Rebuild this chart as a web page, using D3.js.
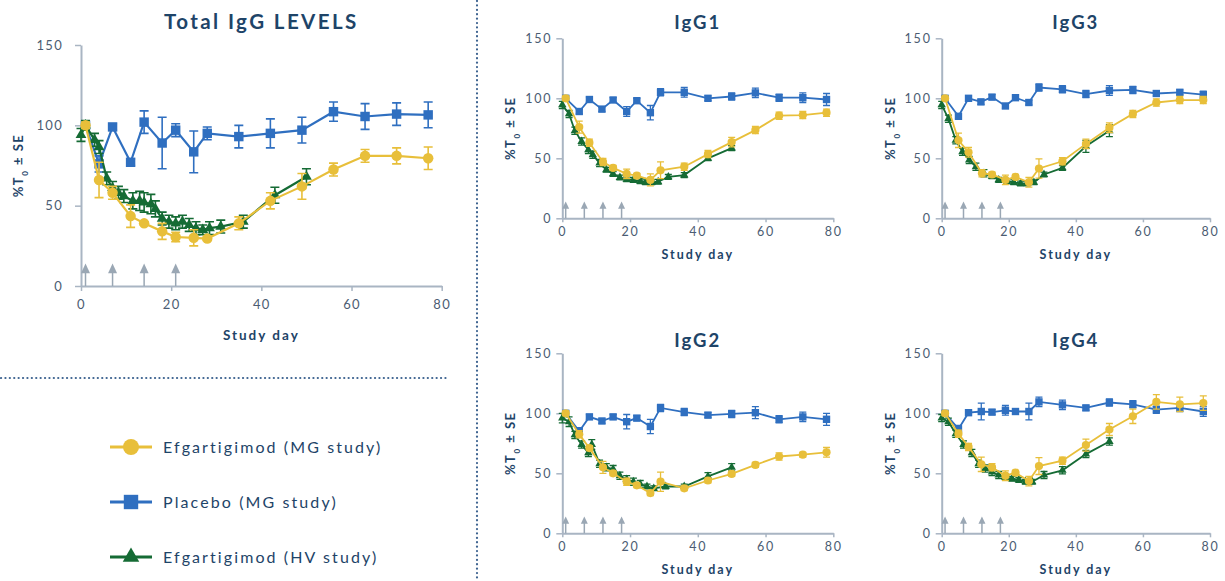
<!DOCTYPE html>
<html>
<head>
<meta charset="utf-8">
<script src="https://cdn.jsdelivr.net/npm/d3@7"></script>
<style>
	body { margin: 0; background: #ffffff; }
	svg text { font-family: Lato, "Open Sans", sans-serif; }
</style>
</head>
<body>
<div id="chart"></div>
<script>
// every series point is [study day, %T0, SE]
var totalMG = [[1,100,2],[4,66,11],[7,58,4],[11,43.5,7],[14,39,1],[18,34,5],[21,30.5,3],[25,30,5],[28,29.5,1],[35,39,4],[42,53,5],[49,62,8],[56,72.5,4],[63,81,4],[70,81,5],[77,79.5,7]];
var totalPlacebo = [[1,100,2],[4,76,5],[7,99,2],[11,77,2],[14,102,7],[18,89,16],[21,97,4],[25,83.5,13],[28,95,4],[35,93,7],[42,95,9],[49,97,8],[56,108.5,6],[63,105.5,8],[70,107,7],[77,106.5,8]];
var totalHV = [[0,94,4],[1,100,3],[3,91,4],[4,86.5,4],[5.7,67,4],[7,61,4],[8.3,58,4],[9.5,56,4],[11.5,53,5],[13,53,6],[14,52,6],[15.5,51,6],[16.5,48,5],[18,42,4],[19.5,40,4],[21,39,4],[22.5,40,4],[24,38,4],[25.5,36,4],[27,35,3],[28.5,36,4],[31,37,4],[36,40,4],[43,56.5,5],[50,68,5]];

var igg1MG = [[1,100,2],[5,76,5],[8,63,3],[12,47,3],[15,42,2],[19,37,4],[22,35.5,2],[26,32,5],[29,40,7],[36,43,3],[43,53.5,3],[50,63.5,4],[57,73.5,3],[64,85.5,3],[71,86,3],[78,88,3]];
var igg1Placebo = [[1,100,2],[5,89,2],[8,99,2],[11.7,91,2],[15,98.6,2],[19,89,4],[22,98,2],[26,88,6],[29,105,3],[36,105,4],[43,100,2],[50,101.5,3],[57,104.5,4],[64,100.5,3],[71,100.5,4],[78,99,5]];
var igg1HV = [[0,94.5,3],[2,87,3],[3.7,73,3],[5.7,64,3],[7.7,57,3],[9,53,3],[11,46,3],[13,40.5,2],[15,37,2],[17,34,2],[19,32.5,2],[21,32,2],[23,31,2],[24.6,30,2],[26.4,30,2],[28.3,30.5,2],[31.3,34.5,2],[36,36,2],[43,50,2],[50,58.5,2]];

var igg3MG = [[1,100,2],[5,65,6],[8,55,4],[12,37.5,3],[15,36.5,2],[19,32,4],[22,34.5,2],[26,30,4],[29,41.5,8],[36,47.5,3],[43,62,4],[50,75.5,4],[57,87,3],[64,96.5,3],[71,98.5,3],[78,98.5,3]];
var igg3Placebo = [[1,100,2],[5,85,2],[8,100,2],[11.7,97,2],[15,101,2],[19,93.6,2],[22,100.5,2],[26,96.5,2],[29,109,3],[36,107.5,3],[43,103.5,3],[50,106.5,4],[57,107,3],[64,104,2],[71,105,2],[78,103,3]];
var igg3HV = [[0,94.5,3],[2,83,3],[4.2,65,3],[6.2,55.5,3],[8.2,48.5,3],[10.2,43,3],[12.6,37.5,3],[15,35,2],[17,32,2],[19.5,31,2],[21.5,30,2],[23.5,29,2],[25.5,29,2],[27.5,30,2],[30.5,36.5,2],[36,42,2],[43,60,5],[50,73,5]];

var igg2MG = [[1,100,2],[5,82.5,3],[8,71,2],[12,55,5],[15,50,2],[19,43,3],[22,40,2],[26,33.5,2],[29,43,8],[36,37.5,2],[43,44,2],[50,49.5,2],[57,57,2],[64,64,3],[71,65.5,2],[78,67.5,4]];
var igg2Placebo = [[1,100,2],[5,85,3],[8,97,2],[11.7,93.6,2],[15,97,2],[19,93,6],[22,96,2],[26,89,6],[29,104.5,3],[36,101,3],[43,98.5,2],[50,99.5,3],[57,100.5,5],[64,95,3],[71,97,4],[78,95,5]];
var igg2HV = [[0,96,4],[2,93,4],[3.7,82,3],[5.7,74,3],[7.7,67,3],[8.7,74,4],[11,58,3],[13,55,3],[15,53.5,3],[17,48,3],[19,45,3],[21,43,3],[23,41,3],[25,39,2],[27,37.5,2],[30.5,39,2],[36,39,2],[43,47.5,3],[50,55,3]];

var igg4MG = [[1,100,2],[5,83,3],[8,72,3],[11.8,57.5,6],[15,55,3],[19,48,4],[22,50.5,2],[26,43.5,4],[29,56,7],[36,60.5,3],[43,73.5,5],[50,86.5,5],[57,97.5,6],[64,109.5,6],[71,107.5,6],[78,108.5,6]];
var igg4Placebo = [[1,100,2],[5,87,3],[8,100.5,2],[11.8,101.5,7],[15,101,2],[19,102.5,4],[22,101.5,2],[26,101.5,7],[29,109.5,4],[36,107,4],[43,104.5,2],[50,109,3],[57,107.5,3],[64,103,3],[71,104.5,3],[78,101.5,4]];
var igg4HV = [[0,96,3],[2,93,3],[4.2,83,3],[6.5,74,3],[9,67,3],[11,58,3],[13,54,3],[15,51,3],[17,48.5,3],[19,46.5,2],[21,45.5,2],[23,44.5,2],[25,43,2],[27,43,2],[30.5,48.5,3],[36,52.5,3],[43,66,3],[50,76.5,3]];

var dosingDaysMain = [1, 7, 14, 21];
var dosingDaysSub = [1, 6.5, 12, 17.5];
var xTicks = [0, 20, 40, 60, 80];
var yTicks = [0, 50, 100, 150];
var legendLabels = ['Efgartigimod (MG study)', 'Placebo (MG study)', 'Efgartigimod (HV study)'];

var colors = { mg: '#e8bf3a', placebo: '#2f6fc0', hv: '#156b34' };
var axisColor = '#a9b5c3';
var labelColor = '#4b5c72';
var titleColor = '#1e4468';

var svg = d3.select('#chart').append('svg')
	.attr('width', 1225)
	.attr('height', 581);

var Panel = function(opts) {
	this.o = opts;
	this.g = svg.append('g').attr('transform', 'translate(' + opts.left + ',' + opts.top + ')');
	this.x = d3.scaleLinear().domain([0, 80]).range([0, opts.width]);
	this.y = d3.scaleLinear().domain([0, 150]).range([opts.height, 0]);
	this.drawAxes();
	this.drawArrows();
	this.drawSeries(opts.placebo, colors.placebo, 'square');
	this.drawSeries(opts.hv, colors.hv, 'triangle');
	this.drawSeries(opts.mg, colors.mg, 'circle');
}

Panel.prototype.drawAxes = function() {
	var o = this.o, big = o.big;

	var yAxis = this.g.append('g')
		.call(d3.axisLeft(this.y).tickValues(yTicks).tickSize(6).tickSizeOuter(0).tickPadding(big ? 12 : 4));
	var xAxis = this.g.append('g')
		.attr('transform', 'translate(0,' + o.height + ')')
		.call(d3.axisBottom(this.x).tickValues(xTicks).tickSize(big ? 5 : 4).tickSizeOuter(0).tickPadding(big ? 9 : 4.5));

	[yAxis, xAxis].forEach(function(a) {
		a.select('.domain').attr('stroke', axisColor).attr('stroke-width', 2);
		a.selectAll('.tick line').attr('stroke', axisColor).attr('stroke-width', 1.5);
		a.selectAll('.tick text')
			.attr('fill', labelColor)
			.style('font-size', big ? '13px' : '12.5px')
			.style('letter-spacing', big ? '1.3px' : '1.8px');
	});

	// title
	this.g.append('text')
		.attr('x', o.width / 2)
		.attr('y', o.titleY)
		.attr('text-anchor', 'middle')
		.attr('fill', titleColor)
		.style('font-weight', 'bold')
		.style('font-size', big ? '20.5px' : '18.5px')
		.style('letter-spacing', big ? '2.4px' : '2px')
		.text(o.title);

	// x label
	this.g.append('text')
		.attr('x', o.width / 2)
		.attr('y', o.height + (big ? 54 : 40.5))
		.attr('text-anchor', 'middle')
		.attr('fill', titleColor)
		.style('font-weight', 'bold')
		.style('font-size', big ? '13.5px' : '12.5px')
		.style('letter-spacing', '2px')
		.text('Study day');

	// y label
	var yl = this.g.append('text')
		.attr('transform', 'translate(' + (big ? -58 : -47) + ',' + (o.height / 2) + ') rotate(-90)')
		.attr('text-anchor', 'middle')
		.attr('fill', titleColor)
		.style('font-weight', 'bold')
		.style('font-size', '13px')
		.style('letter-spacing', '1.5px');
	yl.append('tspan').text('%T');
	yl.append('tspan').attr('baseline-shift', 'sub').style('font-size', '8px').text('0');
	yl.append('tspan').text(' \u00b1 SE');
}

Panel.prototype.drawArrows = function() {
	var self = this, hw = this.o.big ? 4.5 : 3.5;
	var arrows = this.g.append('g').attr('class', 'arrows');
	this.o.arrows.forEach(function(d) {
		var ax = self.x(d);
		arrows.append('line')
			.attr('x1', ax).attr('x2', ax)
			.attr('y1', self.y(0)).attr('y2', self.y(9))
			.attr('stroke', '#9aa7b4')
			.attr('stroke-width', 1.5);
		arrows.append('path')
			.attr('d', 'M' + ax + ',' + self.y(14) + 'L' + (ax + hw) + ',' + self.y(8) + 'L' + (ax - hw) + ',' + self.y(8) + 'Z')
			.attr('fill', '#9aa7b4');
	});
}

Panel.prototype.drawSeries = function(data, color, shape) {
	var x = this.x, y = this.y, big = this.o.big;
	var cap = big ? 4.5 : 3.5;
	var g = this.g.append('g');

	g.append('path')
		.datum(data)
		.attr('d', d3.line().x(function(d) { return x(d[0]); }).y(function(d) { return y(d[1]); }))
		.attr('fill', 'none')
		.attr('stroke', color)
		.attr('stroke-width', big ? 2.2 : 1.8);

	g.selectAll('.err').data(data).enter().append('path')
		.attr('class', 'err')
		.attr('d', function(d) {
			var cx = x(d[0]), t = y(d[1] + d[2]), b = y(d[1] - d[2]);
			return 'M' + cx + ',' + t + 'V' + b +
				'M' + (cx - cap) + ',' + t + 'H' + (cx + cap) +
				'M' + (cx - cap) + ',' + b + 'H' + (cx + cap);
		})
		.attr('fill', 'none')
		.attr('stroke', color)
		.attr('stroke-width', big ? 1.6 : 1.3);

	g.selectAll('.mark').data(data).enter().append('path')
		.attr('class', 'mark')
		.attr('transform', function(d) { return 'translate(' + x(d[0]) + ',' + y(d[1]) + ')'; })
		.attr('d', markerPath(shape, big ? 1.05 : 0.82))
		.attr('fill', color);
}

function markerPath(shape, k) {
	if (shape == 'circle') return d3.symbol().type(d3.symbolCircle).size(Math.PI * 25 * k * k)();
	if (shape == 'square') return d3.symbol().type(d3.symbolSquare).size(81 * k * k)();
	return d3.symbol().type(d3.symbolTriangle).size(46 * k * k)();
}

new Panel({ title: 'Total IgG LEVELS', big: true, left: 81, top: 45, width: 360.7, height: 241, titleY: -16,
	arrows: dosingDaysMain, mg: totalMG, placebo: totalPlacebo, hv: totalHV });
new Panel({ title: 'IgG1', left: 562.3, top: 38.3, width: 271, height: 180, titleY: -9.5,
	arrows: dosingDaysSub, mg: igg1MG, placebo: igg1Placebo, hv: igg1HV });
new Panel({ title: 'IgG3', left: 941.7, top: 38.3, width: 268.3, height: 180, titleY: -9.5,
	arrows: dosingDaysSub, mg: igg3MG, placebo: igg3Placebo, hv: igg3HV });
new Panel({ title: 'IgG2', left: 562.3, top: 353.3, width: 271, height: 180, titleY: -6.5,
	arrows: dosingDaysSub, mg: igg2MG, placebo: igg2Placebo, hv: igg2HV });
new Panel({ title: 'IgG4', left: 941.7, top: 353.3, width: 268.3, height: 180, titleY: -6.5,
	arrows: dosingDaysSub, mg: igg4MG, placebo: igg4Placebo, hv: igg4HV });

// dotted separators
svg.append('line')
	.attr('x1', 477).attr('x2', 477).attr('y1', 1).attr('y2', 581)
	.attr('stroke', '#3d6390').attr('stroke-width', 2.2)
	.attr('stroke-linecap', 'round').attr('stroke-dasharray', '0.1 4.3');
svg.append('line')
	.attr('x1', 1).attr('x2', 447).attr('y1', 378).attr('y2', 378)
	.attr('stroke', '#3d6390').attr('stroke-width', 2.2)
	.attr('stroke-linecap', 'round').attr('stroke-dasharray', '0.1 4.3');

// legend
var legendColors = [colors.mg, colors.placebo, colors.hv];
var legendShapes = ['circle', 'square', 'triangle'];
var legend = svg.append('g').attr('transform', 'translate(110,447)');
legendLabels.forEach(function(label, i) {
	var row = legend.append('g').attr('transform', 'translate(0,' + (i * 55) + ')');
	row.append('line')
		.attr('x1', 0).attr('x2', 42)
		.attr('stroke', legendColors[i]).attr('stroke-width', 3);
	row.append('path')
		.attr('transform', 'translate(21,0)')
		.attr('d', markerPath(legendShapes[i], 1.6))
		.attr('fill', legendColors[i]);
	row.append('text')
		.attr('x', 53)
		.attr('y', 6)
		.attr('fill', titleColor)
		.style('font-size', '16px')
		.style('letter-spacing', '2.1px')
		.text(label);
});
</script>
</body>
</html>
